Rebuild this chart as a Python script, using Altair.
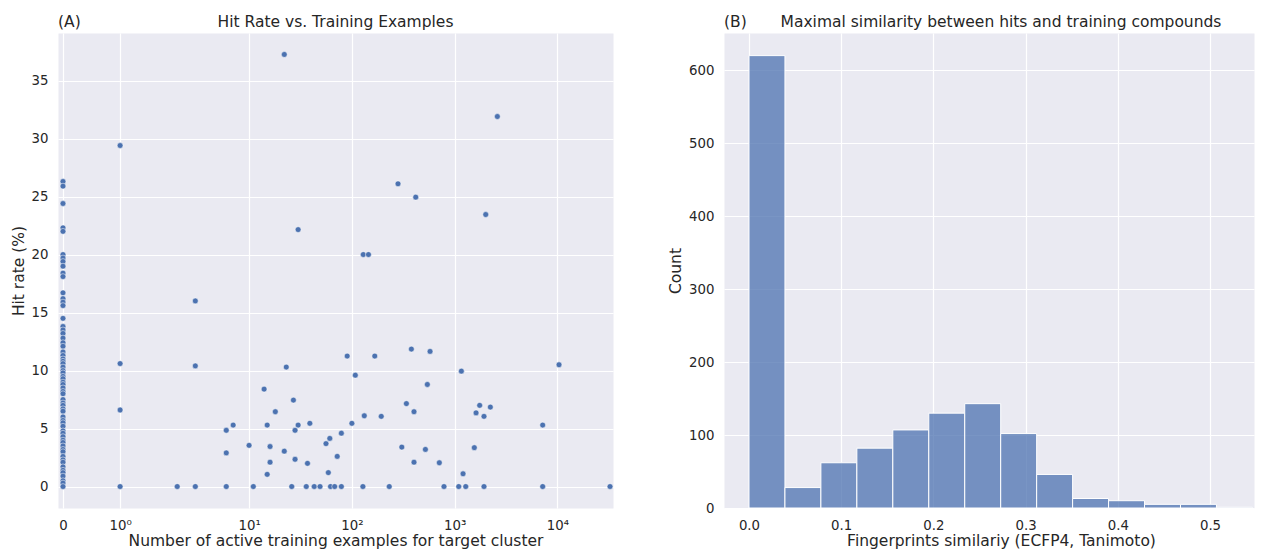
import math
import altair as alt
import pandas as pd

# ---------------- Panel A: hit rate vs. number of active training examples
zero_rates = [26.3, 25.9, 24.4, 22.3, 22.0, 20.0, 19.7, 19.4, 19.0, 18.4, 18.1,
              16.7, 16.2, 15.9, 15.6, 14.5, 13.8, 13.5, 13.2, 12.8, 12.4, 12.1,
              11.6, 11.3, 11.0, 10.8, 10.6, 10.3, 10.0, 9.8, 9.5, 9.3, 9.0, 8.8,
              8.5, 8.2, 8.0, 7.5, 7.2, 7.0, 6.7, 6.5, 6.0, 5.7, 5.5, 5.2, 4.8,
              4.6, 4.3, 4.0, 3.8, 3.5, 3.2, 3.0, 2.6, 2.3, 2.1, 1.7, 1.4, 1.2,
              0.9, 0.5, 0.3, 0.0]

train_counts = [1, 1, 1, 1, 2, 3, 3, 3, 6, 6, 6, 7, 10, 11, 14, 15, 15, 16, 16,
                18, 22, 22, 23, 26, 27, 28, 28, 30, 30, 36, 37, 39, 43, 49, 56,
                59, 61, 62, 68, 72, 79, 79, 90, 100, 108, 128, 129, 132, 145,
                167, 193, 231, 281, 306, 339, 379, 402, 402, 418, 519, 542, 576,
                709, 787, 1095, 1161, 1206, 1281, 1552, 1614, 1750, 1928, 1928,
                2005, 2223, 2600, 7178, 7178, 10350, 32440]
hit_rate = [29.4, 10.6, 6.6, 0.0, 0.0, 16.0, 10.4, 0.0, 0.0, 2.9, 4.85, 5.3,
            3.55, 0.0, 8.4, 5.3, 1.05, 3.45, 2.1, 6.45, 37.25, 3.05, 10.3, 0.0,
            7.45, 4.85, 2.35, 5.3, 22.15, 0.0, 2.0, 5.45, 0.0, 0.0, 3.7, 1.2,
            4.15, 0.0, 0.0, 2.6, 4.6, 0.0, 11.25, 5.45, 9.6, 0.0, 20.0, 6.1,
            20.0, 11.25, 6.05, 0.0, 26.1, 3.4, 7.15, 11.85, 6.45, 2.1, 24.95,
            3.2, 8.8, 11.65, 2.05, 0.0, 0.0, 9.95, 1.1, 0.0, 3.35, 6.35, 7.0,
            6.05, 0.0, 23.45, 6.85, 31.9, 5.3, 0.0, 10.5, 0.0]

x_tick_values = [0, 1, 10, 100, 1000, 10000]
x_tick_labels = ["0", "10⁰", "10¹", "10²", "10³", "10⁴"]
y_ticks_a = [0, 5, 10, 15, 20, 25, 30, 35]

# ---------------- Panel B: histogram of maximal similarity
bin_edges = [0.0, 0.039, 0.078, 0.117, 0.156, 0.195, 0.234, 0.273, 0.312,
             0.351, 0.39, 0.429, 0.468, 0.507, 0.546]
bin_counts = [620, 28, 62, 82, 107, 130, 143, 102, 46, 13, 10, 5, 5, 1]
x_ticks_b = [0.0, 0.1, 0.2, 0.3, 0.4, 0.5]
y_ticks_b = [0, 100, 200, 300, 400, 500, 600]

# matplotlib-style symlog (linthresh=2, linscale=1), in decade units
LT = 2.0
LA = 1.0 / (1.0 - 1.0 / 10.0)


def symlog(v):
    return v * LA / LT if v <= LT else LA + math.log10(v / LT)


FONT = "DejaVu Sans"
TXT = "#262626"
BLUE = "#4c72b0"

W_A, W_B, H = 555, 530, 475
TITLE_B_X = 277  # reference centres panel B texts on an axes cut by the image edge

dfA = pd.DataFrame({
    "n": [0] * len(zero_rates) + train_counts,
    "rate": zero_rates + hit_rate,
})

tick_pos = [round(symlog(v), 5) for v in x_tick_values]
label_expr = "''"
for p, l in reversed(list(zip(tick_pos, x_tick_labels))):
    label_expr = f"abs(datum.value - {p}) < 0.01 ? '{l}' : {label_expr}"

points = alt.Chart(dfA).transform_calculate(
    s=f"datum.n <= {LT} ? datum.n * {LA / LT} : {LA} + log(datum.n / {LT}) / LN10"
).mark_circle(size=34, color=BLUE, opacity=1, stroke="white", strokeWidth=0.5,
              clip=True).encode(
    x=alt.X("s:Q",
            scale=alt.Scale(domain=[-0.0486, 5.350], nice=False, zero=False),
            axis=alt.Axis(values=tick_pos, labelExpr=label_expr,
                          title="Number of active training examples for target cluster")),
    y=alt.Y("rate:Q",
            scale=alt.Scale(domain=[-1.85, 39.1], nice=False, zero=False),
            axis=alt.Axis(values=y_ticks_a, title="Hit rate (%)")),
)


def caption(txt, xpos, align):
    return alt.Chart(pd.DataFrame({"t": [txt]})).mark_text(
        align=align, baseline="alphabetic", font=FONT, fontSize=15.5, color=TXT
    ).encode(x=alt.value(xpos), y=alt.value(-6), text="t:N")


left = alt.layer(
    points,
    caption("(A)", 0, "left"),
    caption("Hit Rate vs. Training Examples", W_A / 2, "center"),
).properties(width=W_A, height=H)

dfB = pd.DataFrame({
    "start": bin_edges[:-1],
    "end": bin_edges[1:],
    "count": bin_counts,
})

bars = alt.Chart(dfB).mark_rect(
    color=BLUE, fillOpacity=0.75, stroke="white", strokeWidth=1
).encode(
    x=alt.X("start:Q",
            scale=alt.Scale(domain=[-0.0271, (W_B - 25) / 922], nice=False, zero=False),
            axis=alt.Axis(values=x_ticks_b, format=".1f", titleX=TITLE_B_X,
                          title="Fingerprints similariy (ECFP4, Tanimoto)")),
    x2="end:Q",
    y=alt.Y("count:Q",
            scale=alt.Scale(domain=[0, 651], nice=False),
            axis=alt.Axis(values=y_ticks_b, title="Count")),
    y2=alt.datum(0),
)

right = alt.layer(
    bars,
    caption("(B)", 0, "left"),
    caption("Maximal similarity between hits and training compounds", TITLE_B_X, "center"),
).properties(width=W_B, height=H)

chart = alt.hconcat(left, right, spacing=54).properties(
    padding={"left": 2, "top": 6, "right": 0, "bottom": 0},
    background="white",
).configure_view(
    fill="#EAEAF2", stroke="transparent"
).configure_axis(
    grid=True, gridColor="white", gridWidth=1.2, gridOpacity=1,
    domain=False, ticks=False,
    labelFont=FONT, labelFontSize=13.3, labelColor=TXT, labelPadding=10,
    titleFont=FONT, titleFontSize=15.5, titleColor=TXT, titleFontWeight="normal",
).configure_axisX(
    titlePadding=2
).configure_axisY(
    titlePadding=5
)

chart.save("out.html", embed_options={"renderer": "svg", "actions": False})
